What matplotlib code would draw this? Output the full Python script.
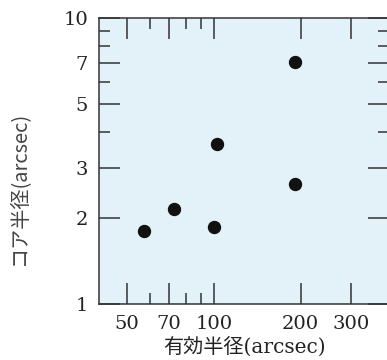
import matplotlib
matplotlib.use("Agg")
import matplotlib.pyplot as plt
from matplotlib.ticker import FixedLocator, NullFormatter

# effective radius vs core radius (arcsec)
r_eff = [57.3, 72.6, 100.2, 102.6, 190.6, 190.6]
r_core = [1.81, 2.15, 1.87, 3.63, 7.02, 2.63]

x_major = [50, 70, 100, 200, 300]
x_minor = [60, 80, 90]
y_major = [1, 2, 3, 5, 7, 10]
y_minor = [4, 6, 8, 9]

fig = plt.figure(figsize=(3.87, 3.60), dpi=100)
fig.patch.set_facecolor("white")
ax = fig.add_axes([99 / 387, 1 - 304.3 / 360, 290 / 387, 286 / 360])
ax.set_facecolor("#e2f2f8")

ax.plot(r_eff, r_core, "o", color="#111111", markersize=8.6, zorder=3)

ax.set_xscale("log")
ax.set_yscale("log")
ax.set_xlim(40, 405)
ax.set_ylim(1, 10)

ax.xaxis.set_major_locator(FixedLocator(x_major))
ax.xaxis.set_minor_locator(FixedLocator(x_minor))
ax.yaxis.set_major_locator(FixedLocator(y_major))
ax.yaxis.set_minor_locator(FixedLocator(y_minor))
ax.set_xticklabels([str(v) for v in x_major])
ax.set_yticklabels([str(v) for v in y_major])
ax.xaxis.set_minor_formatter(NullFormatter())
ax.yaxis.set_minor_formatter(NullFormatter())

ax.tick_params(which="both", direction="in", top=True, right=True,
               color="#333333", width=1.1)
ax.tick_params(which="major", length=15, pad=8)
ax.tick_params(which="minor", length=8)
for lab in ax.get_xticklabels() + ax.get_yticklabels():
    lab.set_family("DejaVu Serif")
    lab.set_fontsize(14)
    lab.set_color("#222222")

for sp in ax.spines.values():
    sp.set_color("#333333")
    sp.set_linewidth(1.1)

fig.text(245 / 387, 1 - 347 / 360, "有効半径(arcsec)", ha="center", va="center",
         fontsize=14.5, color="#222222", family=["DejaVu Serif", "Noto Sans CJK JP"])
fig.text(18 / 387, 1 - 188 / 360, "コア半径(arcsec)", ha="center", va="center",
         rotation=90, fontsize=14.5, color="#444444",
         family=["Noto Sans CJK JP", "DejaVu Sans"])

fig.savefig("out.png", dpi=100, facecolor="white")
